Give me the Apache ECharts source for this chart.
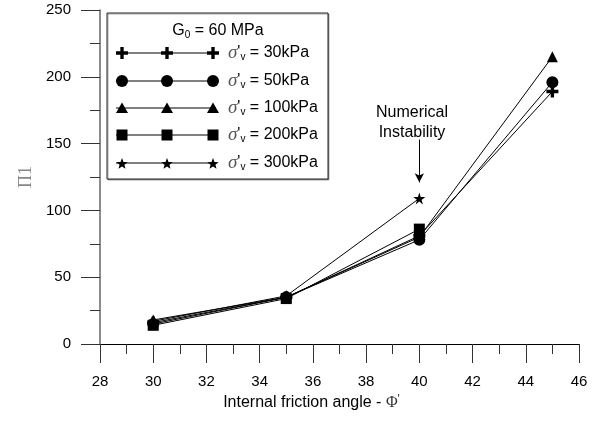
<!DOCTYPE html>
<html>
<head>
<meta charset="utf-8">
<script src="https://cdn.jsdelivr.net/npm/echarts@6/dist/echarts.min.js"></script>
<style>html,body{margin:0;padding:0;background:#fff}#c{width:596px;height:421px}</style>
</head>
<body>
<div id="c"></div>
<script>
// ---- data ----
var xValues = [30, 35, 40, 45];
var s30 = [16, 35, 81, 189];
var s50 = [15, 35, 78, 196];
var s100 = [18, 35, 80, 215];
var s200 = [14, 34, 86, null];
var s300 = [17, 36, 109, null];
var seriesNames = ["30kPa", "50kPa", "100kPa", "200kPa", "300kPa"];
var yTicks = [0, 50, 100, 150, 200, 250];
var xTicks = [28, 30, 32, 34, 36, 38, 40, 42, 44, 46];
var annotation = ["Numerical", "Instability"];

var PLUS = 'path://M3.6,0H6.4V3.6H10V6.4H6.4V10H3.6V6.4H0V3.6H3.6Z';
var STAR = 'path://M50,0L61,35H98L68,57L79,91L50,70L21,91L32,57L2,35H39Z';
var symbols = [PLUS, 'circle', 'triangle', 'rect', STAR];
var sizes = [12, 12, 11, 11, 12];
var allData = [s30, s50, s100, s200, s300];

function pairs(vals) {
  var out = [];
  for (var i = 0; i < xValues.length; i++) if (vals[i] !== null) out.push([xValues[i], vals[i]]);
  return out;
}

var series = allData.map(function (vals, i) {
  var s = {
    type: 'line', name: seriesNames[i], data: pairs(vals),
    symbol: symbols[i], symbolSize: sizes[i],
    lineStyle: { color: '#000', width: 1 },
    itemStyle: { color: '#000', borderWidth: 0 },
    z: 5 - i, animation: false
  };
  if (i === 4) {
    s.markLine = {
      silent: true, symbol: ['none', 'arrow'], symbolSize: [7, 9],
      lineStyle: { color: '#000', width: 1, type: 'solid' },
      label: { show: false },
      data: [[{ coord: [40, 153] }, { coord: [40, 121] }]]
    };
  }
  return s;
});

// ---- legend (graphic) ----
var FONT = '"Liberation Sans", Arial, sans-serif';
function plusPts(x, y, s) {
  var a = s / 2, b = s * 0.14;
  return [[x - b, y - a], [x + b, y - a], [x + b, y - b], [x + a, y - b], [x + a, y + b], [x + b, y + b],
          [x + b, y + a], [x - b, y + a], [x - b, y + b], [x - a, y + b], [x - a, y - b], [x - b, y - b]];
}
function starPts(x, y, s) {
  var R = s / 2, r = R * 0.42, pts = [];
  for (var i = 0; i < 10; i++) {
    var ang = -Math.PI / 2 + i * Math.PI / 5;
    var rr = i % 2 === 0 ? R : r;
    pts.push([x + rr * Math.cos(ang), y + 1 + rr * Math.sin(ang)]);
  }
  return pts;
}
var legendEls = [];
legendEls.push({ type: 'rect', shape: { x: 107, y: 13, width: 221, height: 166 },
  style: { fill: '#fff', stroke: '#222', lineWidth: 1, shadowColor: 'rgba(0,0,0,0.35)', shadowOffsetX: 1, shadowOffsetY: 1 }, z: 100 });
legendEls.push({ type: 'text', x: 218, y: 31, z: 101,
  style: { text: 'G{sub|0} = 60 MPa', font: '16px ' + FONT, fill: '#000', textAlign: 'center', textVerticalAlign: 'middle',
    rich: { sub: { fontSize: 10, padding: [9, 0, 0, 0], fontFamily: FONT } } } });
var rowY = [53, 81, 108, 135, 163];
var mx = [122, 167, 213];
for (var r = 0; r < 5; r++) {
  var y = rowY[r];
  legendEls.push({ type: 'line', shape: { x1: 116, y1: y, x2: 216, y2: y }, style: { stroke: '#000', lineWidth: 1 }, z: 101 });
  for (var k = 0; k < 3; k++) {
    var x = mx[k];
    var el;
    if (r === 0) el = { type: 'polygon', shape: { points: plusPts(x, y, 12) } };
    else if (r === 1) el = { type: 'circle', shape: { cx: x, cy: y, r: 6 } };
    else if (r === 2) el = { type: 'polygon', shape: { points: [[x, y - 5.5], [x + 6, y + 5], [x - 6, y + 5]] } };
    else if (r === 3) el = { type: 'rect', shape: { x: x - 5.5, y: y - 5.5, width: 11, height: 11 } };
    else el = { type: 'polygon', shape: { points: starPts(x, y, 12) } };
    el.style = { fill: '#000' };
    el.z = 102;
    legendEls.push(el);
  }
  legendEls.push({ type: 'text', x: 228, y: y, z: 101,
    style: { text: '{s|σ}\'{v|v} = ' + seriesNames[r], font: '16px ' + FONT, fill: '#000', textVerticalAlign: 'middle',
      rich: { s: { fontFamily: '"Liberation Serif", "DejaVu Serif", serif', fontStyle: 'italic', fontSize: 19, fill: '#555', color: '#555' },
              v: { fontSize: 10, padding: [9, 0, 0, 0], fontFamily: FONT } } } });
}
legendEls.push({ type: 'text', x: 412, y: 113, z: 50,
  style: { text: annotation[0], font: '16px ' + FONT, fill: '#000', textAlign: 'center', textVerticalAlign: 'middle' } });
legendEls.push({ type: 'text', x: 412, y: 133, z: 50,
  style: { text: annotation[1], font: '16px ' + FONT, fill: '#000', textAlign: 'center', textVerticalAlign: 'middle' } });

var chart = echarts.init(document.getElementById('c'), null, { renderer: 'canvas' });
chart.setOption({
  animation: false,
  backgroundColor: '#fff',
  textStyle: { fontFamily: FONT },
  grid: { left: 100, right: 17, top: 10, bottom: 77, containLabel: false },
  xAxis: {
    type: 'value', min: xTicks[0], max: xTicks[xTicks.length - 1], interval: 2,
    axisLine: { show: true, onZero: false, lineStyle: { color: '#000', width: 1 } },
    axisTick: { show: true, length: 19, lineStyle: { color: '#333' } },
    minorTick: { show: true, splitNumber: 2, length: 10, lineStyle: { color: '#333' } },
    axisLabel: { fontSize: 15, color: '#000', margin: 30, fontFamily: FONT },
    splitLine: { show: false },
    name: 'Internal friction angle - {p|Φ}{q|\'}', nameLocation: 'middle', nameGap: 50,
    nameTextStyle: { fontSize: 16, color: '#000', fontFamily: FONT, padding: [0, 56, 0, 0],
      rich: { p: { fontFamily: '"Liberation Serif", serif', fontSize: 16, color: '#333' }, q: { fontSize: 12, color: '#333', padding: [0, 0, 6, 0] } } }
  },
  yAxis: {
    type: 'value', min: 0, max: 250, interval: 50,
    axisLine: { show: true, lineStyle: { color: '#666', width: 1.5 } },
    axisTick: { show: true, length: 19, lineStyle: { color: '#333' } },
    minorTick: { show: true, splitNumber: 2, length: 10, lineStyle: { color: '#333' } },
    axisLabel: { fontSize: 15, color: '#000', margin: 29, fontFamily: FONT },
    splitLine: { show: false },
    name: 'Π1', nameLocation: 'middle', nameGap: 62, nameRotate: 90,
    nameTextStyle: { fontSize: 18, color: '#888', fontFamily: '"Liberation Serif", "DejaVu Serif", serif' }
  },
  series: series,
  graphic: legendEls
});
</script>
</body>
</html>
